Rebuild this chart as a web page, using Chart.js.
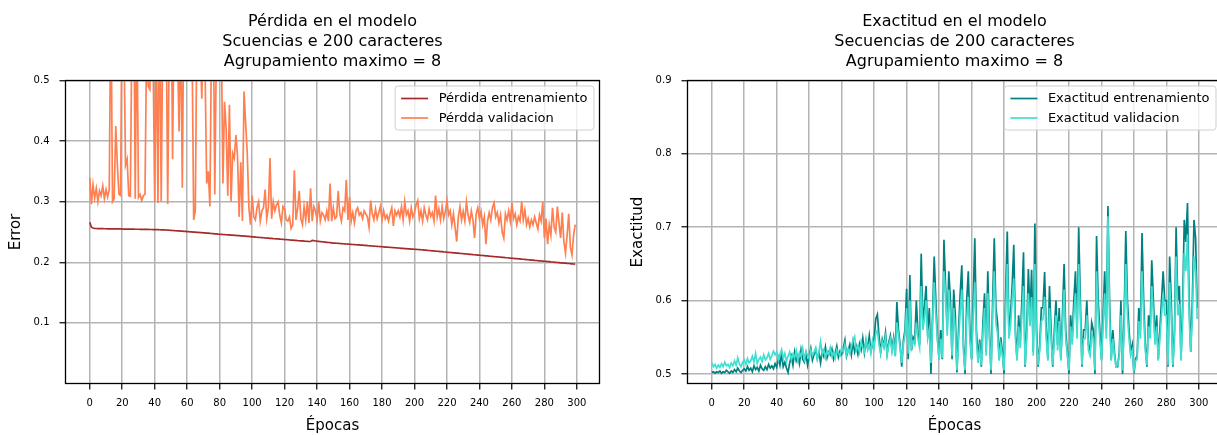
<!DOCTYPE html>
<html><head><meta charset="utf-8">
<script src="https://cdn.jsdelivr.net/npm/chart.js@4.4.0/dist/chart.umd.min.js"></script>
<style>
html,body{margin:0;padding:0;background:#fff;overflow:hidden;width:1217px;height:435px;position:relative;}
#w1{position:absolute;left:0;top:0;width:610px;height:435px;}
#w2{position:absolute;left:622px;top:0;width:610px;height:435px;}
</style></head><body>
<div id="w1"><canvas id="c1" width="610" height="435"></canvas></div>
<div id="w2"><canvas id="c2" width="610" height="435"></canvas></div>
<script>
// ---------- DATA ----------
const epochs = Array.from({length: 300}, (_, i) => i);
const xTicks = [0,20,40,60,80,100,120,140,160,180,200,220,240,260,280,300];
const lossTicks = [0.1,0.2,0.3,0.4,0.5];
const accTicks = [0.5,0.6,0.7,0.8,0.9];

const lossTitle = ['Pérdida en el modelo','Scuencias e 200 caracteres','Agrupamiento maximo = 8'];
const accTitle = ['Exactitud en el modelo','Secuencias de 200 caracteres','Agrupamiento maximo = 8'];
const lossLabels = ['Pérdida entrenamiento','Pérdda validacion'];
const accLabels = ['Exactitud entrenamiento','Exactitud validacion'];
const xTitle = 'Épocas';
const lossYTitle = 'Error';
const accYTitle = 'Exactitud';

const trainLoss = [
0.2660,0.2580,0.2565,0.2560,0.2558,0.2557,0.2556,0.2555,0.2555,0.2554,
0.2554,0.2553,0.2553,0.2552,0.2552,0.2551,0.2551,0.2550,0.2550,0.2550,
0.2549,0.2549,0.2548,0.2548,0.2547,0.2547,0.2546,0.2546,0.2545,0.2545,
0.2545,0.2544,0.2544,0.2543,0.2543,0.2542,0.2542,0.2541,0.2541,0.2540,
0.2540,0.2539,0.2538,0.2537,0.2536,0.2535,0.2534,0.2533,0.2531,0.2529,
0.2527,0.2525,0.2523,0.2521,0.2519,0.2517,0.2515,0.2513,0.2511,0.2509,
0.2507,0.2505,0.2503,0.2501,0.2499,0.2497,0.2495,0.2493,0.2491,0.2489,
0.2487,0.2485,0.2482,0.2480,0.2478,0.2475,0.2473,0.2470,0.2468,0.2465,
0.2463,0.2461,0.2459,0.2457,0.2455,0.2453,0.2451,0.2449,0.2447,0.2445,
0.2443,0.2441,0.2439,0.2437,0.2435,0.2433,0.2431,0.2429,0.2427,0.2425,
0.2420,0.2418,0.2416,0.2413,0.2411,0.2409,0.2407,0.2405,0.2402,0.2400,
0.2398,0.2396,0.2394,0.2391,0.2389,0.2387,0.2385,0.2383,0.2380,0.2378,
0.2376,0.2374,0.2372,0.2369,0.2367,0.2365,0.2363,0.2361,0.2358,0.2356,
0.2354,0.2352,0.2350,0.2347,0.2345,0.2343,0.2345,0.2362,0.2358,0.2352,
0.2348,0.2345,0.2342,0.2339,0.2336,0.2333,0.2330,0.2327,0.2324,0.2321,
0.2318,0.2316,0.2314,0.2312,0.2310,0.2308,0.2306,0.2304,0.2302,0.2300,
0.2298,0.2296,0.2294,0.2292,0.2290,0.2288,0.2286,0.2284,0.2282,0.2280,
0.2278,0.2276,0.2273,0.2271,0.2269,0.2267,0.2265,0.2263,0.2261,0.2259,
0.2257,0.2255,0.2252,0.2250,0.2248,0.2246,0.2244,0.2242,0.2240,0.2238,
0.2236,0.2234,0.2231,0.2229,0.2227,0.2225,0.2223,0.2221,0.2219,0.2217,
0.2215,0.2213,0.2211,0.2209,0.2207,0.2205,0.2202,0.2200,0.2197,0.2195,
0.2192,0.2190,0.2187,0.2185,0.2182,0.2180,0.2177,0.2175,0.2172,0.2170,
0.2167,0.2165,0.2162,0.2160,0.2157,0.2155,0.2152,0.2150,0.2147,0.2145,
0.2142,0.2140,0.2137,0.2135,0.2132,0.2130,0.2127,0.2125,0.2122,0.2120,
0.2117,0.2115,0.2112,0.2110,0.2107,0.2105,0.2102,0.2100,0.2097,0.2095,
0.2092,0.2090,0.2087,0.2085,0.2082,0.2080,0.2077,0.2075,0.2072,0.2070,
0.2067,0.2065,0.2062,0.2060,0.2057,0.2055,0.2052,0.2050,0.2047,0.2045,
0.2042,0.2040,0.2037,0.2035,0.2032,0.2030,0.2027,0.2025,0.2022,0.2020,
0.2017,0.2015,0.2012,0.2010,0.2007,0.2005,0.2002,0.2000,0.1997,0.1995,
0.1992,0.1990,0.1987,0.1985,0.1982,0.1980,0.1977,0.1975,0.1972,0.1970
];

const valLoss = [
0.340,0.296,0.328,0.306,0.322,0.300,0.318,0.310,0.326,0.305,
0.320,0.308,0.320,0.650,0.300,0.305,0.425,0.360,0.312,0.310,
0.700,0.580,0.360,0.370,0.310,0.309,0.600,0.700,0.305,0.620,
0.307,0.312,0.302,0.310,0.312,0.560,0.490,0.485,0.600,0.540,
0.300,0.580,0.298,0.650,0.300,0.600,0.560,0.620,0.296,0.580,
0.700,0.370,0.640,0.600,0.560,0.416,0.600,0.323,0.650,0.560,
0.600,0.580,0.640,0.560,0.270,0.285,0.600,0.700,0.560,0.470,
0.600,0.520,0.330,0.350,0.292,0.580,0.650,0.312,0.560,0.600,
0.540,0.580,0.330,0.465,0.420,0.310,0.460,0.300,0.380,0.372,
0.410,0.375,0.275,0.365,0.268,0.482,0.430,0.380,0.290,0.262,
0.310,0.275,0.270,0.290,0.300,0.268,0.285,0.290,0.320,0.272,
0.290,0.372,0.272,0.300,0.285,0.295,0.300,0.278,0.265,0.292,
0.288,0.270,0.268,0.275,0.256,0.262,0.352,0.270,0.288,0.318,
0.272,0.262,0.292,0.270,0.300,0.265,0.322,0.268,0.292,0.285,
0.270,0.300,0.268,0.282,0.278,0.270,0.285,0.268,0.330,0.268,
0.290,0.272,0.275,0.318,0.280,0.268,0.290,0.285,0.336,0.270,
0.308,0.268,0.282,0.265,0.285,0.290,0.278,0.282,0.272,0.285,
0.280,0.275,0.258,0.302,0.280,0.270,0.288,0.272,0.282,0.292,
0.270,0.285,0.272,0.278,0.268,0.280,0.290,0.260,0.285,0.278,
0.285,0.275,0.292,0.270,0.300,0.278,0.285,0.268,0.290,0.275,
0.282,0.295,0.302,0.272,0.285,0.268,0.290,0.278,0.270,0.288,
0.276,0.282,0.268,0.310,0.275,0.288,0.270,0.292,0.272,0.284,
0.302,0.278,0.285,0.262,0.280,0.258,0.234,0.275,0.292,0.270,
0.284,0.268,0.300,0.278,0.266,0.285,0.270,0.240,0.280,0.290,
0.272,0.284,0.262,0.275,0.230,0.268,0.282,0.270,0.290,0.298,
0.275,0.282,0.265,0.278,0.250,0.240,0.280,0.270,0.285,0.268,
0.298,0.272,0.280,0.262,0.275,0.268,0.300,0.270,0.286,0.262,
0.272,0.258,0.270,0.262,0.275,0.265,0.255,0.278,0.268,0.300,
0.240,0.272,0.230,0.262,0.245,0.290,0.258,0.250,0.292,0.265,
0.240,0.282,0.235,0.215,0.245,0.280,0.225,0.212,0.245,0.262
];

const trainAcc = [
0.502,0.503,0.501,0.503,0.502,0.504,0.501,0.503,0.502,0.505,
0.503,0.501,0.504,0.502,0.506,0.503,0.508,0.504,0.502,0.505,
0.507,0.504,0.510,0.505,0.508,0.503,0.511,0.506,0.509,0.504,
0.512,0.507,0.505,0.510,0.506,0.513,0.508,0.511,0.507,0.514,
0.509,0.522,0.512,0.528,0.510,0.516,0.508,0.502,0.515,0.524,
0.512,0.530,0.518,0.525,0.514,0.533,0.520,0.516,0.528,0.512,
0.524,0.535,0.519,0.527,0.533,0.521,0.529,0.515,0.531,0.524,
0.537,0.522,0.530,0.526,0.534,0.520,0.528,0.538,0.523,0.531,
0.527,0.535,0.546,0.524,0.532,0.540,0.526,0.544,0.530,0.538,
0.527,0.541,0.533,0.549,0.529,0.545,0.535,0.552,0.531,0.540,
0.548,0.575,0.581,0.552,0.530,0.547,0.538,0.556,0.528,0.543,
0.552,0.534,0.549,0.525,0.598,0.560,0.540,0.510,0.545,0.560,
0.616,0.520,0.635,0.532,0.550,0.545,0.600,0.555,0.540,0.664,
0.570,0.592,0.620,0.552,0.590,0.500,0.580,0.660,0.600,0.550,
0.520,0.560,0.520,0.683,0.620,0.560,0.640,0.600,0.520,0.615,
0.580,0.502,0.560,0.610,0.648,0.540,0.500,0.600,0.640,0.560,
0.520,0.600,0.685,0.560,0.520,0.547,0.510,0.570,0.610,0.530,
0.640,0.560,0.500,0.600,0.685,0.590,0.570,0.520,0.550,0.530,
0.500,0.610,0.694,0.560,0.580,0.620,0.676,0.560,0.520,0.580,
0.545,0.600,0.666,0.510,0.560,0.643,0.580,0.642,0.530,0.705,
0.560,0.510,0.540,0.590,0.590,0.639,0.560,0.520,0.620,0.560,
0.510,0.560,0.600,0.540,0.590,0.520,0.580,0.650,0.560,0.530,
0.500,0.580,0.550,0.600,0.640,0.560,0.700,0.600,0.510,0.560,
0.560,0.600,0.540,0.530,0.570,0.560,0.500,0.688,0.600,0.560,
0.520,0.580,0.640,0.560,0.729,0.600,0.520,0.560,0.530,0.510,
0.510,0.530,0.600,0.500,0.580,0.695,0.600,0.560,0.530,0.540,
0.500,0.520,0.525,0.590,0.560,0.692,0.600,0.540,0.510,0.580,
0.560,0.655,0.600,0.550,0.580,0.520,0.560,0.600,0.640,0.600,
0.600,0.510,0.660,0.600,0.510,0.560,0.700,0.600,0.620,0.520,
0.590,0.710,0.680,0.733,0.600,0.530,0.600,0.710,0.685,0.590
];

const valAcc = [
0.515,0.510,0.513,0.508,0.512,0.509,0.514,0.510,0.516,0.511,
0.513,0.509,0.515,0.511,0.518,0.512,0.522,0.514,0.510,0.516,
0.519,0.513,0.521,0.515,0.518,0.524,0.516,0.528,0.514,0.520,
0.523,0.517,0.526,0.519,0.522,0.528,0.520,0.525,0.531,0.526,
0.530,0.519,0.527,0.533,0.521,0.528,0.517,0.524,0.530,0.520,
0.527,0.522,0.532,0.518,0.529,0.524,0.535,0.520,0.530,0.526,
0.521,0.532,0.525,0.530,0.536,0.520,0.529,0.544,0.527,0.533,
0.522,0.531,0.526,0.536,0.524,0.530,0.521,0.533,0.528,0.525,
0.535,0.530,0.540,0.526,0.534,0.528,0.537,0.546,0.551,0.532,
0.538,0.529,0.544,0.536,0.530,0.548,0.534,0.541,0.528,0.546,
0.536,0.555,0.560,0.540,0.528,0.544,0.536,0.550,0.526,0.540,
0.548,0.530,0.545,0.524,0.570,0.553,0.536,0.515,0.540,0.553,
0.590,0.528,0.600,0.536,0.545,0.540,0.570,0.548,0.536,0.620,
0.560,0.575,0.600,0.548,0.560,0.515,0.570,0.625,0.580,0.545,
0.520,0.548,0.522,0.640,0.610,0.552,0.615,0.580,0.525,0.590,
0.560,0.505,0.545,0.585,0.615,0.530,0.505,0.575,0.605,0.545,
0.520,0.580,0.625,0.545,0.515,0.535,0.512,0.555,0.590,0.525,
0.610,0.548,0.505,0.580,0.640,0.570,0.555,0.518,0.540,0.525,
0.505,0.585,0.650,0.548,0.565,0.600,0.630,0.548,0.518,0.565,
0.535,0.580,0.620,0.512,0.548,0.610,0.565,0.605,0.525,0.650,
0.548,0.512,0.532,0.572,0.575,0.605,0.548,0.518,0.590,0.548,
0.512,0.548,0.580,0.532,0.572,0.518,0.565,0.615,0.548,0.525,
0.505,0.565,0.540,0.580,0.610,0.548,0.650,0.580,0.512,0.548,
0.548,0.580,0.532,0.525,0.555,0.548,0.505,0.640,0.580,0.548,
0.518,0.565,0.610,0.548,0.715,0.580,0.518,0.548,0.525,0.510,
0.512,0.525,0.580,0.505,0.565,0.650,0.580,0.548,0.525,0.532,
0.505,0.518,0.520,0.572,0.548,0.640,0.580,0.532,0.512,0.565,
0.548,0.620,0.580,0.540,0.565,0.518,0.548,0.580,0.610,0.580,
0.580,0.512,0.625,0.580,0.512,0.548,0.660,0.580,0.595,0.518,
0.570,0.665,0.640,0.690,0.580,0.530,0.580,0.660,0.640,0.575
];

// ---------- STYLE ----------
const FONT = "'DejaVu Sans', sans-serif";
const GRID = '#b4b4b4';
const LW = 1.7;

const framePlugin = {
  id: 'frame',
  afterDatasetsDraw(chart) {
    const {ctx, chartArea: a} = chart;
    ctx.save();
    ctx.strokeStyle = '#000';
    ctx.lineWidth = 1.3;
    ctx.strokeRect(a.left, a.top, a.right - a.left, a.bottom - a.top);
    ctx.restore();
  }
};

const legendPlugin = {
  id: 'mplLegend',
  afterDraw(chart) {
    const {ctx, chartArea: a} = chart;
    const ds = chart.data.datasets;
    ctx.save();
    ctx.font = '13px ' + FONT;
    let tw = 0;
    ds.forEach(d => { tw = Math.max(tw, ctx.measureText(d.label).width); });
    const w = 43.5 + tw + 6.5;
    const h = 44;
    const right = a.right - 5.5;
    const left = right - w;
    const top = a.top + 5.5;
    const r = 3;
    ctx.beginPath();
    ctx.moveTo(left + r, top);
    ctx.lineTo(right - r, top);
    ctx.arcTo(right, top, right, top + r, r);
    ctx.lineTo(right, top + h - r);
    ctx.arcTo(right, top + h, right - r, top + h, r);
    ctx.lineTo(left + r, top + h);
    ctx.arcTo(left, top + h, left, top + h - r, r);
    ctx.lineTo(left, top + r);
    ctx.arcTo(left, top, left + r, top, r);
    ctx.closePath();
    ctx.fillStyle = 'rgba(255,255,255,0.8)';
    ctx.fill();
    ctx.strokeStyle = '#d0d0d0';
    ctx.lineWidth = 1;
    ctx.stroke();
    const order = [...ds].sort((p, q) => (p.legendIndex - q.legendIndex));
    order.forEach((d, i) => {
      const y = top + 12.5 + i * 19.5;
      ctx.strokeStyle = d.borderColor;
      ctx.lineWidth = LW;
      ctx.beginPath();
      ctx.moveTo(left + 6, y);
      ctx.lineTo(left + 33, y);
      ctx.stroke();
      ctx.fillStyle = '#000';
      ctx.textBaseline = 'middle';
      ctx.textAlign = 'left';
      ctx.fillText(d.label, left + 43.5, y + 0.5);
    });
    ctx.restore();
  }
};

function build(id, titleLines, yTitleText, yMin, yMax, yTickVals, datasets) {
  return new Chart(document.getElementById(id), {
    type: 'line',
    data: { labels: epochs, datasets },
    options: {
      responsive: false,
      animation: false,
      devicePixelRatio: 1,
      layout: { padding: { left: 0, right: 10.5, top: 0, bottom: 0 } },
      elements: { point: { radius: 0 }, line: { borderWidth: LW, tension: 0 } },
      plugins: {
        legend: { display: false },
        tooltip: { enabled: false },
        title: {
          display: true, text: titleLines, fullSize: false, color: '#000',
          font: { family: FONT, size: 16, weight: 'normal', lineHeight: 1.25 },
          padding: { top: 12, bottom: 8.5 }
        }
      },
      scales: {
        x: {
          type: 'linear', min: -14.95, max: 313.95,
          afterBuildTicks: s => { s.ticks = xTicks.map(v => ({ value: v })); },
          afterFit: s => { s.height = 51.5; },
          grid: { color: GRID, lineWidth: 1.5, drawTicks: true, tickLength: 6, tickColor: '#000', tickWidth: 1.2 },
          border: { display: false },
          ticks: { color: '#000', font: { family: FONT, size: 10 }, padding: 7.5, maxRotation: 0, autoSkip: false,
                   callback: v => String(v) },
          title: { display: true, text: xTitle, color: '#000', font: { family: FONT, size: 15, lineHeight: 1.2 }, padding: { top: 0, bottom: 0 } }
        },
        y: {
          type: 'linear', min: yMin, max: yMax,
          afterBuildTicks: s => { s.ticks = yTickVals.map(v => ({ value: v })); },
          afterFit: s => { s.width = 65.5; },
          grid: { color: GRID, lineWidth: 1.5, drawTicks: true, tickLength: 6, tickColor: '#000', tickWidth: 1.2 },
          border: { display: false },
          ticks: { color: '#000', font: { family: FONT, size: 10 }, padding: 10, autoSkip: false,
                   callback: v => Number(v).toFixed(1) },
          title: { display: true, text: yTitleText, color: '#000', font: { family: FONT, size: 15, lineHeight: 1.2 }, padding: { top: 7, bottom: 0 } }
        }
      }
    },
    plugins: [framePlugin, legendPlugin]
  });
}

build('c1', lossTitle, lossYTitle, 0.0, 0.5, lossTicks, [
  { label: lossLabels[0], data: trainLoss, borderColor: '#a52a2a', borderWidth: LW, order: 1, legendIndex: 0 },
  { label: lossLabels[1], data: valLoss, borderColor: '#ff7f50', borderWidth: LW, order: 0, legendIndex: 1 }
]);
build('c2', accTitle, accYTitle, 0.487, 0.9, accTicks, [
  { label: accLabels[0], data: trainAcc, borderColor: '#008080', borderWidth: LW, order: 1, legendIndex: 0 },
  { label: accLabels[1], data: valAcc, borderColor: '#40e0d0', borderWidth: LW, order: 0, legendIndex: 1 }
]);
</script>
</body></html>
